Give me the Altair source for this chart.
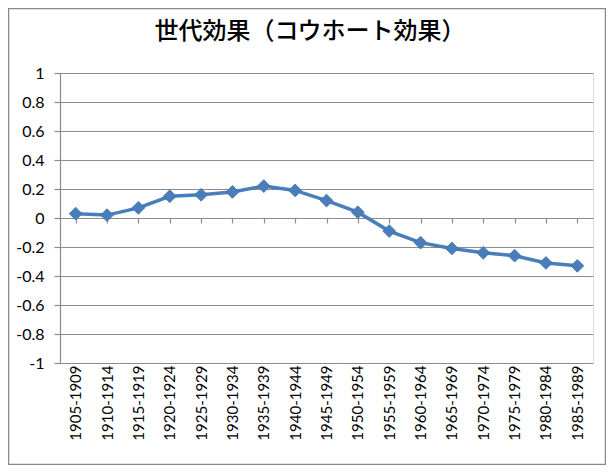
import altair as alt
import pandas as pd

cohorts = ["1905-1909", "1910-1914", "1915-1919", "1920-1924", "1925-1929",
           "1930-1934", "1935-1939", "1940-1944", "1945-1949", "1950-1954",
           "1955-1959", "1960-1964", "1965-1969", "1970-1974", "1975-1979",
           "1980-1984", "1985-1989"]
effects = [0.03, 0.02, 0.07, 0.15, 0.16, 0.18, 0.22, 0.19, 0.12, 0.04,
           -0.09, -0.17, -0.21, -0.24, -0.26, -0.31, -0.33]
y_ticks = [-1, -0.8, -0.6, -0.4, -0.2, 0, 0.2, 0.4, 0.6, 0.8, 1]
title_text = "世代効果（コウホート効果）"

df = pd.DataFrame({"cohort": cohorts, "effect": effects})

BLUE = "#4A7EBB"
GRID = "#8C8C8C"
W, H = 533, 290

x_enc = alt.X(
    "cohort:N", sort=cohorts, title=None,
    scale=alt.Scale(paddingInner=0, paddingOuter=0, align=0.5),
    axis=alt.Axis(
        offset=-H / 2, domainColor=GRID, domainWidth=1.2,
        tickColor=GRID, tickSize=5, tickWidth=1.2,
        bandPosition=1,
        labelAngle=-90, labelAlign="right", labelBaseline="middle",
        labelPadding=H / 2 - 3, labelFont="Lato", labelFontSize=15,
        labelColor="#000000", grid=False, labelOverlap=False,
    ),
)
y_enc = alt.Y(
    "effect:Q", title=None,
    scale=alt.Scale(domain=[-1, 1], nice=False, zero=False),
    axis=alt.Axis(
        values=y_ticks, labelExpr="'' + round(datum.value * 10) / 10",
        domainColor=GRID, domainWidth=1.2, tickColor=GRID, tickSize=6, tickWidth=1.2,
        gridColor=GRID, gridWidth=1.2, grid=True, labelOverlap=False,
        labelFont="Lato", labelFontSize=16, labelColor="#000000", labelPadding=10,
    ),
)

line = alt.Chart(df).mark_line(color=BLUE, strokeWidth=3.5).encode(x=x_enc, y=y_enc)
points = alt.Chart(df).mark_point(
    shape="diamond", filled=True, size=165, color=BLUE, opacity=1,
    stroke="#3F72AF", strokeWidth=0.8,
).encode(x=x_enc, y=y_enc)

one = pd.DataFrame({"t": [title_text]})
border = alt.Chart(one).mark_rect(
    fill=None, stroke="#888888", strokeWidth=1.5, clip=False
).encode(
    x=alt.value(-51.5), x2=alt.value(W + 12.5),
    y=alt.value(-64.5), y2=alt.value(H + 101.5),
)
title = alt.Chart(one).mark_text(
    font="Noto Sans CJK JP", fontSize=24, fontWeight=500, color="#000000",
    align="center", baseline="middle",
).encode(text="t:N", x=alt.value(250), y=alt.value(-41))

chart = alt.layer(border, title, line, points).properties(
    width=W, height=H,
    autosize=alt.AutoSizeParams(type="none"),
    padding={"left": 52, "top": 65, "right": 13, "bottom": 102},
).configure_view(stroke=None).configure(background="white")

chart.save("out.html", embed_options={"renderer": "svg", "actions": False})
